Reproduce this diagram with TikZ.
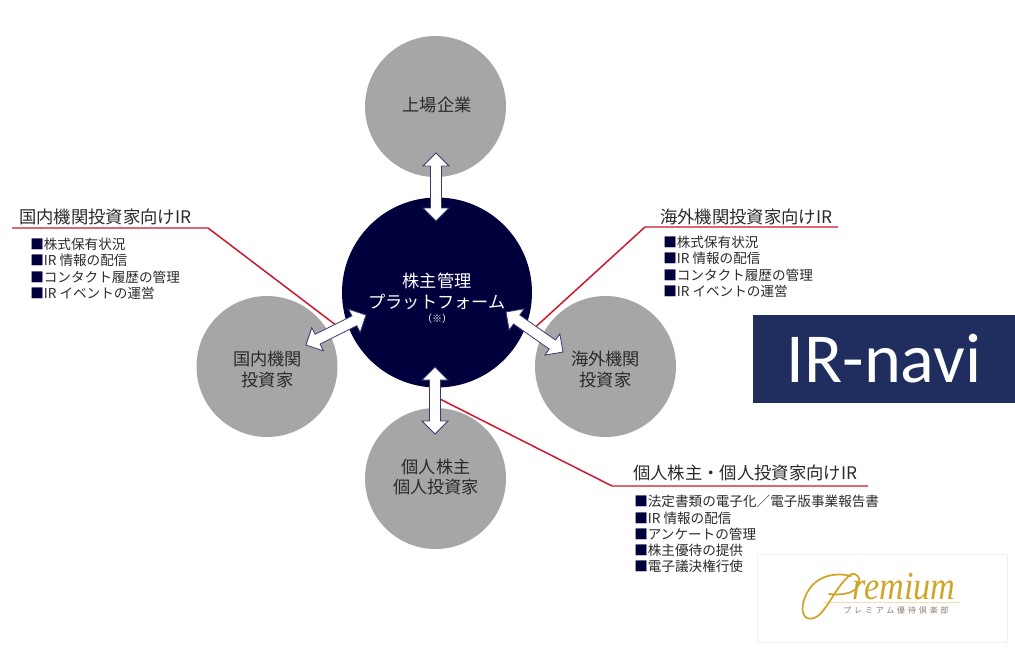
\documentclass[tikz,border=0pt]{standalone}
\usepackage{fontspec}
\setmainfont{Noto Sans CJK JP}
\newfontfamily\bandfont{Carlito}
\newfontfamily\premiumfont{Liberation Serif}
\usetikzlibrary{calc}
\definecolor{navy}{HTML}{00003C}
\definecolor{edgeblue}{HTML}{3A3A70}
\definecolor{hubgray}{HTML}{A6A6A6}
\definecolor{leadred}{HTML}{D0142C}
\definecolor{inktext}{HTML}{2A2A2A}
\definecolor{bandblue}{HTML}{1F2E5E}
\definecolor{gold}{HTML}{CFA52A}
\definecolor{logogray}{HTML}{8A7A6A}
\newcommand{\pxfont}[2]{\fontsize{#1pt}{#2pt}\selectfont}
\newcommand{\sq}{{\color{navy}■}}
\tikzset{
  x=0.75pt,y=-0.75pt,
  hub/.style={circle,fill=hubgray,inner sep=0,minimum size=105.75pt},
  core/.style={circle,fill=navy,inner sep=0,minimum size=142.5pt},
  hublabel/.style={text=inktext,align=center,font=\pxfont{12.9}{15.6}},
  heading/.style={text=inktext,anchor=west,inner sep=0,font=\pxfont{13}{15}},
  itemlist/.style={text=inktext,anchor=north west,align=left,inner sep=0,font=\pxfont{10.2}{12.2}},
  leader/.style={draw=leadred,line width=1.1pt},
  twoway/.style={draw=edgeblue,fill=white,line width=0.6pt,line join=miter,
    to path={
      (\tikztostart)
      -- ($(\tikztostart)!9.75pt!(\tikztotarget)!9.75pt!90:(\tikztotarget)$)
      -- ($(\tikztostart)!9.75pt!(\tikztotarget)!4.1pt!90:(\tikztotarget)$)
      -- ($(\tikztotarget)!9.75pt!(\tikztostart)!4.1pt!-90:(\tikztostart)$)
      -- ($(\tikztotarget)!9.75pt!(\tikztostart)!9.75pt!-90:(\tikztostart)$)
      -- (\tikztotarget)
      -- ($(\tikztotarget)!9.75pt!(\tikztostart)!9.75pt!90:(\tikztostart)$)
      -- ($(\tikztotarget)!9.75pt!(\tikztostart)!4.1pt!90:(\tikztostart)$)
      -- ($(\tikztostart)!9.75pt!(\tikztotarget)!4.1pt!-90:(\tikztotarget)$)
      -- ($(\tikztostart)!9.75pt!(\tikztotarget)!9.75pt!-90:(\tikztotarget)$)
      -- cycle}},
}
\begin{document}
\begin{tikzpicture}
\useasboundingbox (0,0) rectangle (1015,647);
% leader coordinates
\coordinate (lfree) at (12,228);
\coordinate (lknee) at (208,228);
\coordinate (lend) at (345,332);
\coordinate (rfree) at (838,227);
\coordinate (rknee) at (645,227);
\coordinate (rend) at (530,332);
\coordinate (bfree) at (868,486);
\coordinate (bknee) at (612,486);
\coordinate (bend) at (436,397);
\draw[leader] (lfree) -- (lknee) -- (lend);
\draw[leader] (rfree) -- (rknee) -- (rend);
\draw[leader] (bfree) -- (bknee) -- (bend);
% circles
\node[hub] (top) at (435.5,106.5) {};
\node[hub] (left) at (267,366.5) {};
\node[hub] (right) at (605.5,366.5) {};
\node[hub] (bottom) at (435.5,478.5) {};
\node[core] (hubcore) at (437,292.5) {};
\node[hublabel] (toplabel) at (437,105) {上場企業};
\node[hublabel] (leftlabel) at (267.5,369.5) {国内機関\\投資家};
\node[hublabel] (rightlabel) at (605.5,369.5) {海外機関\\投資家};
\node[hublabel] (bottomlabel) at (436,477) {個人株主\\個人投資家};
\node[text=white,align=center,font=\pxfont{12.9}{15.6}] (corelabel) at (437,291) {株主管理\\プラットフォーム};
\node[text=white,font=\pxfont{7.5}{9}] (corenote) at (437,319) {（※）};
% arrows
\coordinate (at1) at (436,153); \coordinate (at2) at (436,221);
\coordinate (ab1) at (435,367); \coordinate (ab2) at (435,434);
\coordinate (ar1) at (506,312); \coordinate (ar2) at (563,352);
\coordinate (al1) at (366,315); \coordinate (al2) at (306,345);
\draw[twoway] (at1) to (at2);
\draw[twoway] (ab1) to (ab2);
\draw[twoway] (ar1) to (ar2);
\draw[twoway] (al1) to (al2);
% labels
\node[heading] (lhead) at (19,217) {国内機関投資家向けIR};
\node[heading] (rhead) at (660,217) {海外機関投資家向けIR};
\node[heading] (bhead) at (633,473) {個人株主・個人投資家向けIR};
\node[itemlist] (llist) at (30,238) {\sq 株式保有状況\\\sq IR 情報の配信\\\sq コンタクト履歴の管理\\\sq IR イベントの運営};
\node[itemlist] (rlist) at (663,236) {\sq 株式保有状況\\\sq IR 情報の配信\\\sq コンタクト履歴の管理\\\sq IR イベントの運営};
\node[itemlist] (blist) at (634,495) {\sq 法定書類の電子化／電子版事業報告書\\\sq IR 情報の配信\\\sq アンケートの管理\\\sq 株主優待の提供\\\sq 電子議決権行使};
% band
\node[fill=bandblue,minimum width=196.5pt,minimum height=66pt,inner sep=0] (band) at (884,359) {};
\node[text=white,font=\bandfont\pxfont{52.7}{55}] (bandtext) at (884,359) {IR-navi};
% premium logo
\node[fill=white,draw=black!6,line width=0.6pt,minimum width=187.5pt,minimum height=66.5pt,inner sep=0] (logobox) at (882,598.5) {};
\draw[gold!35,line width=0.4pt] (823,602.5) -- (960,602.5);
\draw[gold,line width=1.3pt,line cap=round]
  (851,576) .. controls (835,572) and (812,575) .. (804,600)
  .. controls (798,620) and (812,624) .. (822,612)
  .. controls (832,600) and (838,585) .. (850,575)
  .. controls (856,571) and (862,578) .. (858,586)
  .. controls (853,595) and (838,595) .. (829,594);
\node[text=gold,anchor=base west,inner sep=0,font=\premiumfont\itshape\pxfont{27}{29}] (logoword) at (852,599) {\scalebox{0.95}[1.1]{remium}};
\node[text=logogray,anchor=base,inner sep=0,font=\pxfont{6}{7}\addfontfeature{LetterSpace=36}] (logosub) at (896,613) {プレミアム優待倶楽部};
\end{tikzpicture}
\end{document}
